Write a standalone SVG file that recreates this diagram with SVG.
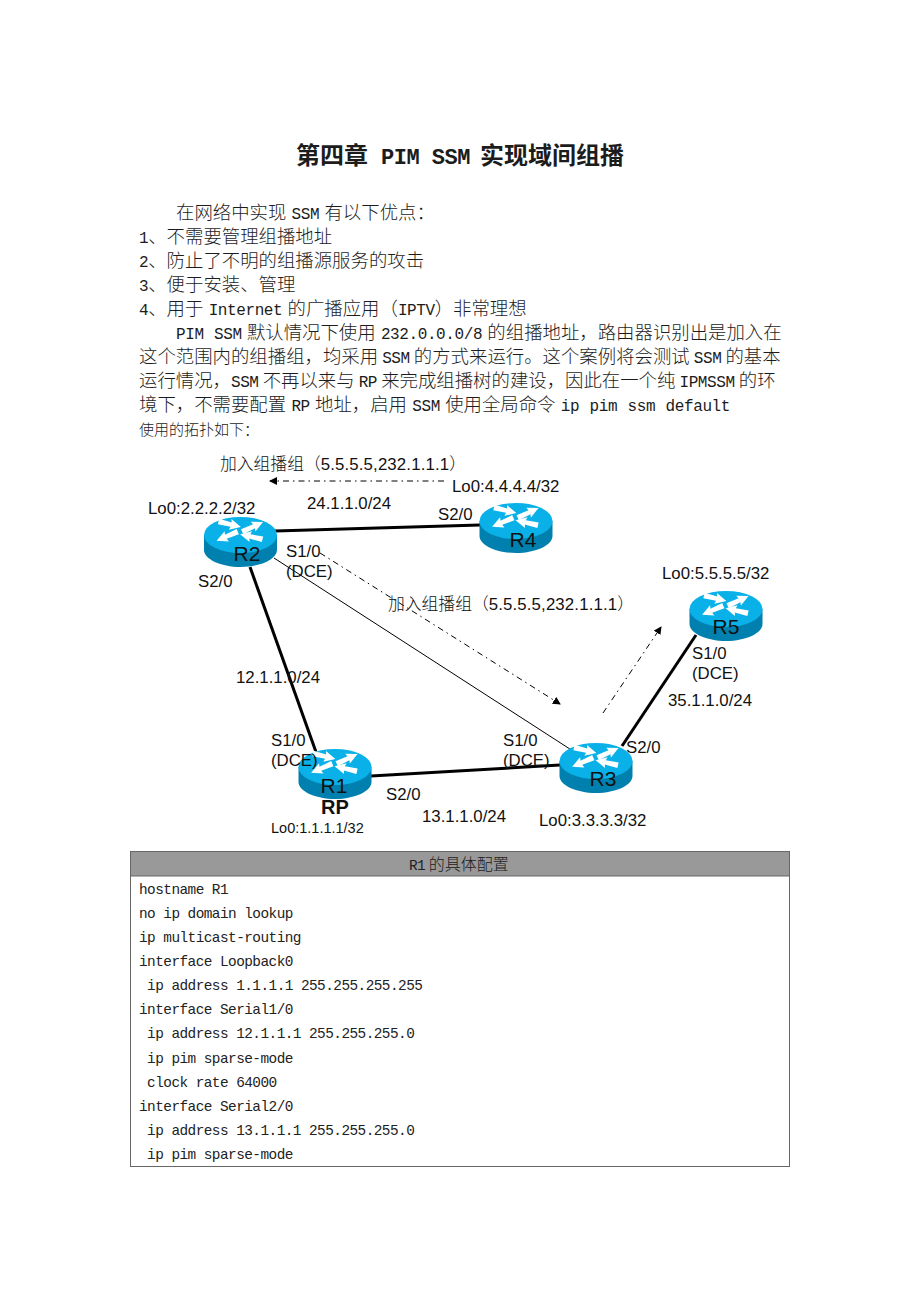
<svg xmlns="http://www.w3.org/2000/svg" width="920" height="1302" viewBox="0 0 920 1302">
<style>
text{white-space:pre;text-spacing-trim:space-all;text-autospace:no-autospace}
.doc{font-family:"Noto Sans CJK SC",sans-serif;font-size:18.4px;fill:#1c1c1c;font-weight:300}
.ws{word-spacing:1.2px}
.l{font-family:"Liberation Mono",monospace;font-size:16px;letter-spacing:-.4px}
.lab{font-family:"Liberation Sans","Noto Sans CJK SC",sans-serif;font-size:16.8px;fill:#111}
.lc{font-weight:300}
.ln{letter-spacing:.15px}
.rn{font-family:"Liberation Sans",sans-serif;font-size:21px;fill:#111;text-anchor:middle}
.cfg{font-family:"Liberation Mono",monospace;font-size:14.4px;letter-spacing:-.54px;fill:#222}
.thick{stroke:#000;stroke-width:3;fill:none}
.thin{stroke:#000;stroke-width:1;fill:none}
.dash{stroke:#000;stroke-width:1;fill:none;stroke-dasharray:6 4 1.5 4}
</style>
<defs>
<marker id="ah" markerWidth="8" markerHeight="8" refX="7" refY="4" orient="auto" markerUnits="userSpaceOnUse"><path d="M0 0L8 4L0 8Z" fill="#000"/></marker>
<path id="arw" d="M0 -2.800L13 -2.200L12 -5.500L23 0L12 5.500L13 2.200L0 2.800Z" fill="#fff"/>
<g id="rtr">
<path d="M-36.500 -7V8C-36.500 17 -20 25 0 25S36.500 17 36.500 8V-7Z" fill="#0080ae"/>
<ellipse cx="0" cy="-7" rx="36.500" ry="18" fill="#0ab1e8"/>
<use href="#arw" transform="translate(-22 -20.500) rotate(14)"/>
<use href="#arw" transform="translate(1.700 -10.300) rotate(-25)"/>
<use href="#arw" transform="translate(-2.700 -10.300) rotate(157)"/>
<use href="#arw" transform="translate(22 -2.700) rotate(193)"/>
</g>
</defs>
<rect width="920" height="1302" fill="#fff"/>

<g id="doc">
<text y="164" class="doc" style="font-size:24px;font-weight:700"><tspan x="296">第四章</tspan> <tspan x="381" style="font-family:'Liberation Mono',monospace;font-size:22px;letter-spacing:-.5px">PIM SSM</tspan><tspan x="480">实现域间组播</tspan></text>
<text x="176" y="219" class="doc ws">在网络中实现 <tspan class="l">SSM</tspan> 有以下优点：</text>
<text x="139" y="243" class="doc"><tspan class="l">1</tspan>、不需要管理组播地址</text>
<text x="139" y="267" class="doc"><tspan class="l">2</tspan>、防止了不明的组播源服务的攻击</text>
<text x="139" y="291" class="doc"><tspan class="l">3</tspan>、便于安装、管理</text>
<text x="139" y="315" class="doc ws"><tspan class="l">4</tspan>、用于 <tspan class="l">Internet</tspan> 的广播应用（<tspan class="l">IPTV</tspan>）非常理想</text>
<text x="176" y="339" class="doc ws"><tspan class="l">PIM SSM</tspan> 默认情况下使用 <tspan class="l">232.0.0.0/8</tspan> 的组播地址，路由器识别出是加入在</text>
<text x="139" y="363" class="doc">这个范围内的组播组，均采用 <tspan class="l">SSM</tspan> 的方式来运行。这个案例将会测试 <tspan class="l">SSM</tspan> 的基本</text>
<text x="139" y="387" class="doc">运行情况，<tspan class="l">SSM</tspan> 不再以来与 <tspan class="l">RP</tspan> 来完成组播树的建设，因此在一个纯 <tspan class="l">IPMSSM</tspan> 的环</text>
<text x="139" y="411" class="doc ws">境下，不需要配置 <tspan class="l">RP</tspan> 地址，启用 <tspan class="l">SSM</tspan> 使用全局命令 <tspan class="l">ip pim ssm default</tspan></text>
<text x="139" y="435" class="doc" style="font-size:15px">使用的拓扑如下：</text>
</g>

<g id="connectors">
<path class="thick" d="M275 531L480 525"/>
<path class="thick" d="M250 567L316 752"/>
<path class="thin" d="M274 558L590 762"/>
<path class="thick" d="M371 776L560 765"/>
<path class="thick" d="M622 746L696 635"/>
<path class="dash" marker-end="url(#ah)" d="M444 481L270 481"/>
<path class="dash" marker-end="url(#ah)" d="M320 553L560 704"/>
<path class="dash" marker-end="url(#ah)" d="M603 713L661 627"/>
</g>

<g id="R1"><use href="#rtr" x="335" y="774"/><text x="334" y="793" class="rn">R1</text></g>
<g id="R2"><use href="#rtr" x="240.500" y="542"/><text x="247" y="561" class="rn">R2</text></g>
<g id="R3"><use href="#rtr" x="596" y="768"/><text x="603" y="786" class="rn">R3</text></g>
<g id="R4"><use href="#rtr" x="516" y="528"/><text x="523" y="547" class="rn">R4</text></g>
<g id="R5"><use href="#rtr" x="726" y="616"/><text x="726" y="634" class="rn">R5</text></g>

<g id="labels">
<text x="220" y="470" class="lab"><tspan class="lc">加入组播组（</tspan><tspan class="ln">5.5.5.5,232.1.1.1</tspan><tspan class="lc">）</tspan></text>
<text x="452" y="492" class="lab">Lo0:4.4.4.4/32</text>
<text x="307" y="509" class="lab">24.1.1.0/24</text>
<text x="148" y="514" class="lab">Lo0:2.2.2.2/32</text>
<text x="438" y="520" class="lab">S2/0</text>
<text x="286" y="557" class="lab">S1/0</text>
<text x="286" y="577" class="lab">(DCE)</text>
<text x="198" y="587" class="lab">S2/0</text>
<text x="662" y="579" class="lab">Lo0:5.5.5.5/32</text>
<text x="388" y="610" class="lab"><tspan class="lc">加入组播组（</tspan><tspan class="ln">5.5.5.5,232.1.1.1</tspan><tspan class="lc">）</tspan></text>
<text x="692" y="659" class="lab">S1/0</text>
<text x="692" y="679" class="lab">(DCE)</text>
<text x="236" y="683" class="lab">12.1.1.0/24</text>
<text x="668" y="706" class="lab">35.1.1.0/24</text>
<text x="271" y="746" class="lab">S1/0</text>
<text x="271" y="766" class="lab">(DCE)</text>
<text x="503" y="746" class="lab">S1/0</text>
<text x="503" y="766" class="lab">(DCE)</text>
<text x="626" y="753" class="lab">S2/0</text>
<text x="386" y="800" class="lab">S2/0</text>
<text x="321" y="814" class="lab" style="font-size:20px;font-weight:700">RP</text>
<text x="422" y="822" class="lab">13.1.1.0/24</text>
<text x="539" y="826" class="lab">Lo0:3.3.3.3/32</text>
<text x="271" y="833" class="lab" style="font-size:14.500px">Lo0:1.1.1.1/32</text>
</g>

<g id="table">
<rect x="130.500" y="851.500" width="659" height="315" fill="#fff" stroke="#666"/>
<rect x="130.500" y="851.500" width="659" height="24.500" fill="#999" stroke="#666"/>
<text x="409" y="870" class="doc" style="font-size:16px"><tspan class="cfg">R1</tspan> 的具体配置</text>
<text x="139" y="894" class="cfg">hostname R1</text>
<text x="139" y="918" class="cfg">no ip domain lookup</text>
<text x="139" y="942" class="cfg">ip multicast-routing</text>
<text x="139" y="966" class="cfg">interface Loopback0</text>
<text x="139" y="990" class="cfg"> ip address 1.1.1.1 255.255.255.255</text>
<text x="139" y="1014" class="cfg">interface Serial1/0</text>
<text x="139" y="1038" class="cfg"> ip address 12.1.1.1 255.255.255.0</text>
<text x="139" y="1063" class="cfg"> ip pim sparse-mode</text>
<text x="139" y="1087" class="cfg"> clock rate 64000</text>
<text x="139" y="1111" class="cfg">interface Serial2/0</text>
<text x="139" y="1135" class="cfg"> ip address 13.1.1.1 255.255.255.0</text>
<text x="139" y="1159" class="cfg"> ip pim sparse-mode</text>
</g>
</svg>
